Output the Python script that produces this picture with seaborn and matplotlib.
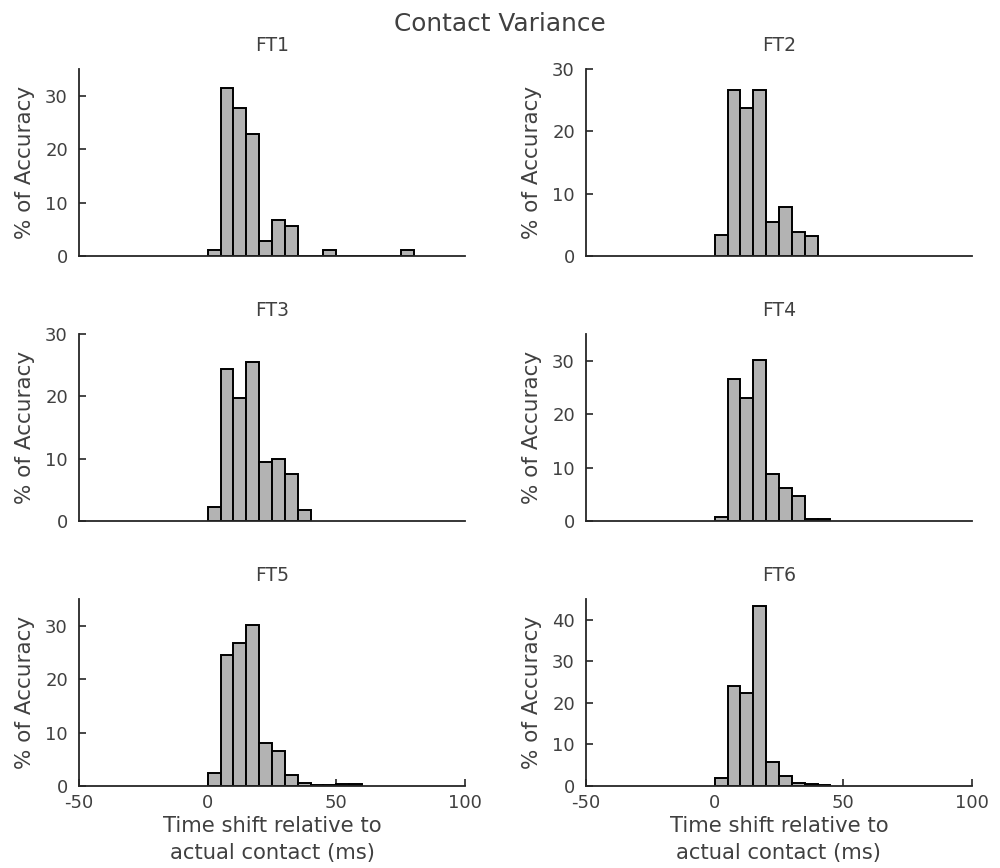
import matplotlib

matplotlib.use("Agg")
import matplotlib.pyplot as plt
import numpy as np
import seaborn as sns

sns.set_theme(style="ticks")
plt.rcParams["font.family"] = ["DejaVu Sans"]
plt.rcParams["axes.unicode_minus"] = False

# % of accuracy per 5 ms bin, bins start at 0 ms
bin_width = 5
ft1 = [1.1, 31.5, 27.7, 22.9, 2.9, 6.7, 5.7, 0, 0, 1.1, 0, 0, 0, 0, 0, 1.1]
ft2 = [3.3, 26.6, 23.7, 26.6, 5.5, 7.8, 3.9, 3.2]
ft3 = [2.3, 24.4, 19.7, 25.5, 9.4, 10.0, 7.5, 1.8]
ft4 = [0.8, 26.6, 23.1, 30.1, 8.7, 6.1, 4.6, 0.3, 0.3]
ft5 = [2.5, 24.6, 26.7, 30.2, 8.0, 6.5, 2.1, 0.5, 0.2, 0.15, 0.4, 0.4]
ft6 = [2.0, 24.1, 22.4, 43.2, 5.7, 2.5, 0.6, 0.4, 0.2]

panels = {"FT1": ft1, "FT2": ft2, "FT3": ft3, "FT4": ft4, "FT5": ft5, "FT6": ft6}
y_limits = {"FT1": 35, "FT2": 30, "FT3": 30, "FT4": 35, "FT5": 35, "FT6": 45}
x_ticks = [-50, 0, 50, 100]

text_color = "#404040"
axis_color = "#262626"

fig, axes = plt.subplots(3, 2, figsize=(10, 8.68), dpi=100)

col_left = [0.079, 0.586]
row_bottom = [0.705, 0.3998, 0.0945]

for i, (name, pct) in enumerate(panels.items()):
    row, col = divmod(i, 2)
    ax = axes[row, col]
    ax.set_position([col_left[col], row_bottom[row], 0.386, 0.2154])

    pct = np.array(pct)
    bin_left = np.arange(len(pct)) * bin_width
    sns.histplot(
        x=bin_left + bin_width / 2,
        weights=pct,
        binwidth=bin_width,
        binrange=(0, len(pct) * bin_width),
        color="#b3b3b3",
        alpha=1,
        edgecolor="black",
        linewidth=1.4,
        ax=ax,
    )

    ax.set_xlim(-50, 100)
    ax.set_ylim(0, y_limits[name])
    ax.set_yticks(np.arange(0, y_limits[name] + 1, 10))
    ax.set_title(name, fontsize=13.5, color=text_color, pad=13)
    ax.set_ylabel("% of Accuracy", fontsize=15.5, color=text_color, labelpad=7)
    sns.despine(ax=ax)
    for side in ["left", "bottom"]:
        ax.spines[side].set_color(axis_color)
        ax.spines[side].set_linewidth(1.3)
    ax.tick_params(direction="in", length=5, width=1.2, color=axis_color,
                   labelcolor=text_color, labelsize=13)
    ax.tick_params(axis="y", pad=8)
    ax.tick_params(axis="x", pad=6)

    if row == 2:
        ax.set_xticks(x_ticks)
        ax.set_xlabel("Time shift relative to\nactual contact (ms)", fontsize=15.2,
                      color=text_color, linespacing=1.4, labelpad=3)
    else:
        ax.set_xticks([])
        ax.set_xlabel("")

fig.suptitle("Contact Variance", fontsize=17.8, color=text_color, y=0.986)

fig.savefig("out.png", dpi=100)
